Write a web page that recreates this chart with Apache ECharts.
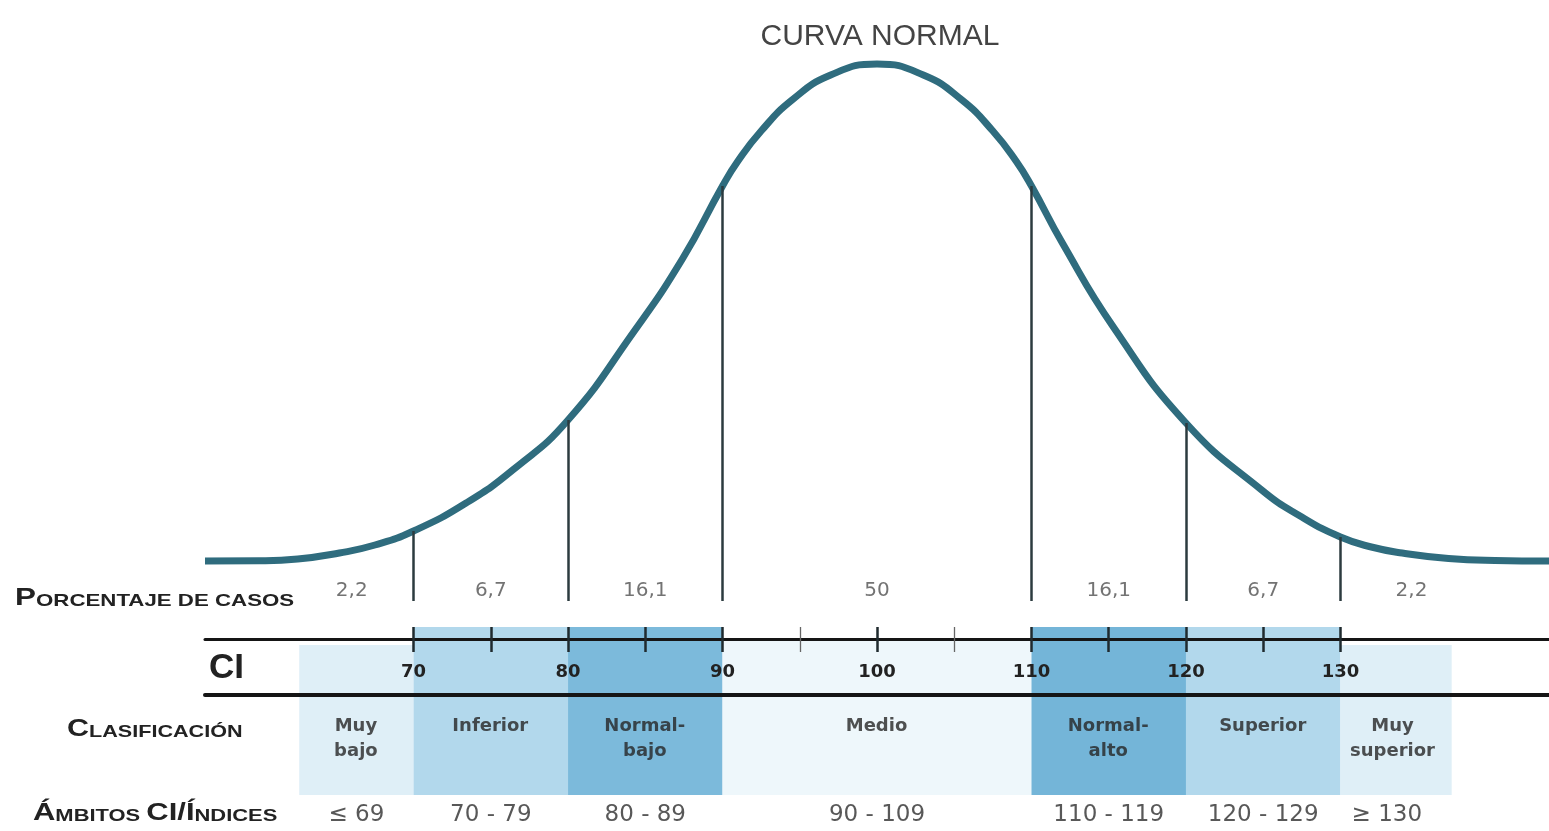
<!DOCTYPE html>
<html>
<head>
    <title>Curva normal CI</title>
    <meta charset="utf-8">
    <style>
        body {
            margin: 0;
            padding: 0;
            background: #fff;
        }
        #chart {
            width: 1549px;
            height: 831px;
        }
    </style>
</head>
<body>
    <script src="https://cdn.jsdelivr.net/npm/echarts@6.0.0/dist/echarts.min.js"></script>
    <div id="chart"></div>
    <script>
        // curva (CI, altura relativa)
        const curveX = [56.5, 60, 62.5, 65.2, 67.5, 70, 73.4, 76.5, 80, 84.2, 87.4, 90, 91, 92.5, 94.5, 97, 100,
            103, 105.5, 107.5, 109, 110, 112, 115.3, 120, 124.9, 127.5, 130, 132, 134, 137, 140, 143.5];
        const curveY = [0, 0.3, 2, 8, 16, 30, 58, 92, 141, 228, 302, 375, 400, 430, 461, 486, 497,
            486, 461, 430, 400, 375, 318, 234, 138, 71, 44, 24, 14, 8, 2.5, 0.5, 0];
        const cuts = [70, 80, 90, 110, 120, 130];

        const pctLabels = ['2,2', '6,7', '16,1', '50', '16,1', '6,7', '2,2'];
        const pctPos = [66, 75, 85, 100, 115, 125, 134.6];

        const majorTicks = [70, 75, 80, 85, 90, 100, 110, 115, 120, 125, 130];
        const minorTicks = [95, 105];
        const tickLabels = [70, 80, 90, 100, 110, 120, 130];

        const classLabels = ['Muy\nbajo', 'Inferior', 'Normal-\nbajo', 'Medio', 'Normal-\nalto', 'Superior', 'Muy\nsuperior'];
        const classPos = [66.3, 75, 85, 100, 115, 125, 133.4];

        const rangeLabels = ['≤ 69', '70 - 79', '80 - 89', '90 - 109', '110 - 119', '120 - 129', '≥ 130'];
        const rangePos = [66.3, 75, 85, 100, 115, 125, 133];

        const bandEdges = [62.6, 70, 80, 90, 110, 120, 130, 137.2];

        // estilos
        const bandColors = ['#dfeff7', '#b2d8ec', '#7cbadb', '#eef7fb', '#74b5d8', '#b2d8ec', '#dfeff7'];
        const bandTops = [45, 27, 27, 39, 27, 27, 45];
        const FONT = '"Liberation Sans", Arial, sans-serif';
        const WIDE = '"DejaVu Sans", Verdana, sans-serif';
        const XMIN = 56.5, XMAX = 143.5;

        const chart = echarts.init(document.getElementById('chart'));

        function hideY(grid, min, max, inverse) {
            return { gridIndex: grid, type: 'value', min: min, max: max, inverse: !!inverse, show: false };
        }
        function baseX(grid) {
            return {
                gridIndex: grid, type: 'value', min: XMIN, max: XMAX,
                splitLine: { show: false }, axisLine: { show: false, onZero: false },
                axisTick: { show: false }, axisLabel: { show: false }, z: 10
            };
        }

        const gridBase = { left: 205, width: 1344, outerBoundsMode: 'none', containLabel: false };

        const xTicks = baseX(1);
        xTicks.position = 'top';
        xTicks.axisTick = { show: true, inside: true, length: 25, customValues: majorTicks,
            lineStyle: { color: '#1f2a2e', width: 2.5 } };

        const xMinor = baseX(2);
        xMinor.position = 'top';
        xMinor.axisTick = { show: true, inside: true, length: 25, customValues: minorTicks,
            lineStyle: { color: '#666', width: 1.3 } };

        const xTopLine = baseX(3);
        xTopLine.position = 'top';
        xTopLine.axisLine = { show: true, onZero: false, lineStyle: { color: '#151515', width: 3 } };

        const xBottomLine = baseX(3);
        xBottomLine.position = 'bottom';
        xBottomLine.axisLine = { show: true, onZero: false, lineStyle: { color: '#151515', width: 4 } };
        xBottomLine.axisLabel = { show: true, inside: true, customValues: tickLabels, margin: 23,
            verticalAlign: 'middle', fontSize: 18, fontWeight: 'bold', color: '#222', fontFamily: WIDE };

        const cutLines = cuts.map(c => [
            { coord: [c, curveY[curveX.indexOf(c)]] },
            { coord: [c, -40] }
        ]);

        const bands = bandColors.map((col, i) => [
            { xAxis: bandEdges[i], yAxis: bandTops[i], itemStyle: { color: col } },
            { xAxis: bandEdges[i + 1], yAxis: 195 }
        ]);

        function smallCaps(x, y, text, sx) {
            return {
                type: 'text', x: x, y: y, scaleX: sx,
                style: {
                    text: text, fill: '#222', verticalAlign: 'middle', align: 'left',
                    rich: {
                        a: { fontSize: 24, fontWeight: 'bold', fontFamily: FONT, fill: '#222', verticalAlign: 'bottom', lineHeight: 26 },
                        b: { fontSize: 17, fontWeight: 'bold', fontFamily: FONT, fill: '#222', verticalAlign: 'bottom', lineHeight: 26 }
                    }
                }
            };
        }

        chart.setOption({
            animation: false,
            backgroundColor: '#fff',
            title: {
                text: 'CURVA NORMAL', left: 875, top: 17, textAlign: 'center',
                textStyle: { fontSize: 30, fontWeight: 'normal', color: '#444', fontFamily: FONT }
            },
            grid: [
                Object.assign({ top: 61, height: 540 }, gridBase),
                Object.assign({ top: 627, height: 25 }, gridBase),
                Object.assign({ top: 627, height: 25 }, gridBase),
                Object.assign({ top: 639, height: 56 }, gridBase),
                Object.assign({ top: 600, height: 231 }, gridBase)
            ],
            xAxis: [
                Object.assign(baseX(0), { z: 0 }),
                xTicks, xMinor, xTopLine, xBottomLine,
                Object.assign(baseX(4), { z: 0 })
            ],
            yAxis: [
                hideY(0, -40, 500),
                hideY(1, 0, 1),
                hideY(2, 0, 1),
                hideY(3, 0, 1),
                hideY(4, 0, 231, true)
            ],
            graphic: [
                smallCaps(15, 597, '{a|P}{b|ORCENTAJE DE CASOS}', 1.31),
                {
                    type: 'text', x: 209, y: 668,
                    style: { text: 'CI', fontSize: 35, fontWeight: 'bold', fontFamily: FONT, fill: '#222', verticalAlign: 'middle' }
                },
                smallCaps(67, 728, '{a|C}{b|LASIFICACIÓN}', 1.27),
                smallCaps(33, 812, '{a|Á}{b|MBITOS }{a|CI/Í}{b|NDICES}', 1.29)
            ],
            series: [
                {
                    type: 'line', xAxisIndex: 0, yAxisIndex: 0, z: 2,
                    data: [], symbol: 'none',
                    markLine: {
                        silent: true, symbol: 'none', label: { show: false },
                        lineStyle: { color: '#2c3b3f', width: 2.5, type: 'solid' },
                        data: cutLines
                    }
                },
                {
                    type: 'line', xAxisIndex: 0, yAxisIndex: 0, z: 3,
                    data: curveX.map((x, i) => [x, curveY[i]]),
                    smooth: 0.5, symbol: 'none',
                    lineStyle: { color: '#2f6c7e', width: 7 }
                },
                {
                    type: 'scatter', xAxisIndex: 0, yAxisIndex: 0, z: 4,
                    symbolSize: 1, itemStyle: { color: 'rgba(0,0,0,0)' },
                    data: pctPos.map(x => [x, -30]),
                    label: {
                        show: true, position: 'inside', fontSize: 20, color: '#505050', fontFamily: WIDE,
                        formatter: p => pctLabels[p.dataIndex]
                    }
                },
                {
                    type: 'scatter', xAxisIndex: 5, yAxisIndex: 4, z: 1,
                    data: [], markArea: { silent: true, data: bands }
                },
                {
                    type: 'scatter', xAxisIndex: 5, yAxisIndex: 4, z: 12,
                    symbolSize: 1, itemStyle: { color: 'rgba(0,0,0,0)' },
                    data: classPos.map(x => [x, 114.5]),
                    label: {
                        show: true, position: [0, 0], align: 'center', verticalAlign: 'top',
                        fontSize: 18, fontWeight: 'bold', lineHeight: 25, color: '#262626', fontFamily: WIDE,
                        formatter: p => classLabels[p.dataIndex]
                    }
                },
                {
                    type: 'scatter', xAxisIndex: 5, yAxisIndex: 4, z: 12,
                    symbolSize: 1, itemStyle: { color: 'rgba(0,0,0,0)' },
                    data: rangePos.map(x => [x, 215]),
                    label: {
                        show: true, position: 'inside', fontSize: 23, color: '#2e2e2e', fontFamily: WIDE,
                        formatter: p => rangeLabels[p.dataIndex]
                    }
                }
            ]
        });
    </script>
</body>
</html>
